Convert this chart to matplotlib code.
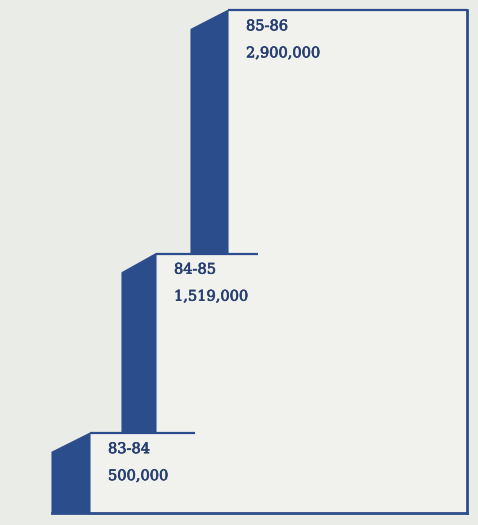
"""
Grafik tangga 3 tahun (83-84 s/d 85-86) dengan sisi samping gelap.
"""
import matplotlib
matplotlib.use("Agg")
import matplotlib.pyplot as plt
import matplotlib.patheffects as pe
from matplotlib.patches import Polygon

# Data
periods = ["83-84", "84-85", "85-86"]
values_m = [0.5, 1.519, 2.9]          # dalam juta

# Gaya
BLUE = "#2c4d8c"
TEXT_BLUE = "#283f70"
PAPER = "#eaece8"
FACE = "#f1f2ee"

# posisi horizontal (px) -- tepi kiri sisi, tepi kiri muka, ujung garis atas
side_left = [52, 122, 191]
front_left = [90, 156, 228]
top_right = [195, 258, 467]
RIGHT_EDGE = 467
DEPTH_PX = 19

# skala vertikal: ~176 px per juta, dasar grafik sedikit di atas nol
PX_PER_M = 176.17
Y0_PX = 521.2
ylim = ((Y0_PX - 525) / PX_PER_M, Y0_PX / PX_PER_M)
base = (Y0_PX - 513) / PX_PER_M
depth = DEPTH_PX / PX_PER_M

fig = plt.figure(figsize=(4.78, 5.25), dpi=100)
fig.patch.set_facecolor(PAPER)
ax = fig.add_axes([0, 0, 1, 1])
ax.set_xlim(0, 478)
ax.set_ylim(*ylim)
ax.axis("off")

# muka depan (bentuk tangga)
pts = [(front_left[0], base)]
for i, v in enumerate(values_m):
    pts.append((front_left[i], v))
    nxt = front_left[i + 1] if i + 1 < len(values_m) else RIGHT_EDGE
    pts.append((nxt, v))
pts.append((RIGHT_EDGE, base))
ax.add_patch(Polygon(pts, closed=True, facecolor=FACE, edgecolor="none", zorder=1))

# sisi samping gelap
for i, v in enumerate(values_m):
    bottom = base if i == 0 else values_m[i - 1]
    side = [(side_left[i], bottom), (side_left[i], v - depth),
            (front_left[i], v), (front_left[i], bottom)]
    ax.add_patch(Polygon(side, closed=True, facecolor=BLUE, edgecolor=BLUE,
                         linewidth=0.8, zorder=2))
    # garis atas tiap anak tangga
    ax.plot([front_left[i], top_right[i]], [v, v], color=BLUE, lw=1.6,
            solid_capstyle="butt", zorder=3)

# bingkai kanan dan bawah
ax.plot([RIGHT_EDGE, RIGHT_EDGE], [values_m[-1], base], color=BLUE, lw=2.0, zorder=3)
ax.plot([side_left[0], RIGHT_EDGE], [base, base], color=BLUE, lw=2.0, zorder=3)

# label (sedikit ditebalkan, mirip huruf cetak aslinya)
thick = [pe.withStroke(linewidth=0.5, foreground=TEXT_BLUE)]
for i, (p, v) in enumerate(zip(periods, values_m)):
    ax.annotate(p, xy=(front_left[i], v), xytext=(18, -16),
                textcoords="offset pixels", ha="left", va="center",
                fontsize=10.5, family="DejaVu Serif", color=TEXT_BLUE,
                path_effects=thick, zorder=4)
    ax.annotate(f"{int(round(v * 1e6)):,}", xy=(front_left[i], v), xytext=(18, -43),
                textcoords="offset pixels", ha="left", va="center",
                fontsize=10.5, family="DejaVu Serif", color=TEXT_BLUE,
                path_effects=thick, zorder=4)

fig.savefig("out.png", dpi=100, facecolor=PAPER)
